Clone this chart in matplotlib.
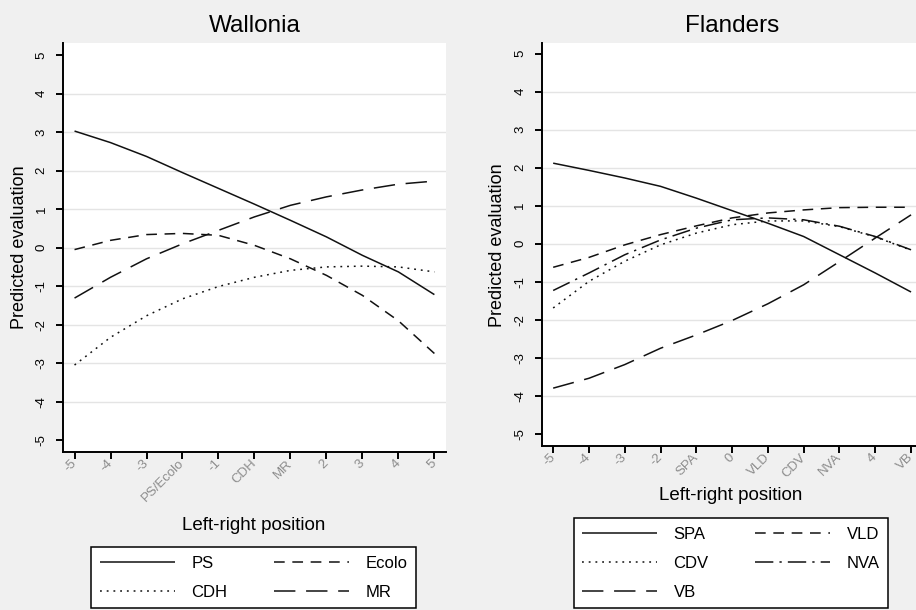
"""Predicted evaluation by left-right position, Wallonia vs Flanders."""

import matplotlib.pyplot as plt

plt.rcParams["font.family"] = ["Liberation Sans", "DejaVu Sans"]
plt.rcParams["axes.unicode_minus"] = False

positions = [-5, -4, -3, -2, -1, 0, 1, 2, 3, 4, 5]
y_ticks = [-5, -4, -3, -2, -1, 0, 1, 2, 3, 4, 5]

wallonia_ticks = ["-5", "-4", "-3", "PS/Ecolo", "-1", "CDH", "MR", "2", "3", "4", "5"]
flanders_ticks = ["-5", "-4", "-3", "-2", "SPA", "0", "VLD", "CDV", "NVA", "4", "VB"]

# Wallonia
ps = [3.03, 2.73, 2.37, 1.95, 1.54, 1.13, 0.71, 0.28, -0.20, -0.63, -1.22]
ecolo = [-0.05, 0.19, 0.34, 0.37, 0.32, 0.06, -0.29, -0.72, -1.24, -1.90, -2.75]
cdh = [-3.05, -2.33, -1.77, -1.33, -1.01, -0.77, -0.59, -0.50, -0.48, -0.50, -0.63]
mr = [-1.31, -0.77, -0.29, 0.10, 0.45, 0.80, 1.10, 1.32, 1.50, 1.65, 1.73]

# Flanders
spa = [2.12, 1.93, 1.73, 1.51, 1.20, 0.87, 0.54, 0.19, -0.29, -0.77, -1.27]
vld = [-0.62, -0.36, -0.03, 0.24, 0.47, 0.68, 0.81, 0.89, 0.95, 0.96, 0.96]
cdv = [-1.69, -0.99, -0.46, -0.03, 0.28, 0.50, 0.60, 0.60, 0.45, 0.18, -0.17]
nva = [-1.23, -0.77, -0.29, 0.10, 0.41, 0.63, 0.68, 0.63, 0.46, 0.19, -0.16]
vb = [-3.80, -3.54, -3.18, -2.75, -2.40, -2.02, -1.58, -1.08, -0.47, 0.15, 0.76]

SOLID = (0, ())
DOTTED = (0, (1.2, 3.2))
DASHED = (0, (7, 5))
LONGDASH = (0, (14, 7))
DASHDOT = (0, (12, 4, 1.5, 4))

BG = "#f0f0f0"


def _style_axes(ax, tick_labels, ylim):
    ax.set_facecolor("white")
    ax.set_xlim(-5.32, 5.32)
    ax.set_ylim(*ylim)
    ax.set_xticks(positions)
    ax.set_xticklabels(tick_labels, rotation=45, ha="right", va="center",
                       rotation_mode="anchor", color="#8c8c8c", fontsize=9.5)
    ax.set_yticks(y_ticks)
    ax.set_yticklabels([str(v) for v in y_ticks], rotation=90, va="center",
                       fontsize=9.5)
    ax.tick_params(axis="x", length=5, width=1.4, pad=2)
    ax.tick_params(axis="y", length=5, width=1.4, pad=6)
    for side in ("top", "right"):
        ax.spines[side].set_visible(False)
    for side in ("left", "bottom"):
        ax.spines[side].set_linewidth(1.4)
    ax.grid(True, axis="y", color="#e4e4e4", linewidth=1.0)
    ax.set_axisbelow(True)
    gridlines = ax.yaxis.get_gridlines()
    gridlines[0].set_visible(False)
    gridlines[-1].set_visible(False)


fig = plt.figure(figsize=(9.16, 6.1), dpi=100, facecolor=BG)

ax_w = fig.add_axes([0.0688, 0.259, 0.418, 0.670])
ax_f = fig.add_axes([0.5914, 0.269, 0.4157, 0.661])

line_kw = dict(color="#111111", linewidth=1.1)

w_ps, = ax_w.plot(positions, ps, linestyle=SOLID, label="PS", **line_kw)
w_ecolo, = ax_w.plot(positions, ecolo, linestyle=DASHED, label="Ecolo", **line_kw)
w_cdh, = ax_w.plot(positions, cdh, linestyle=DOTTED, label="CDH", **line_kw)
w_mr, = ax_w.plot(positions, mr, linestyle=LONGDASH, label="MR", **line_kw)

f_spa, = ax_f.plot(positions, spa, linestyle=SOLID, label="SPA", **line_kw)
f_vld, = ax_f.plot(positions, vld, linestyle=DASHED, label="VLD", **line_kw)
f_cdv, = ax_f.plot(positions, cdv, linestyle=DOTTED, label="CDV", **line_kw)
f_nva, = ax_f.plot(positions, nva, linestyle=DASHDOT, label="NVA", **line_kw)
f_vb, = ax_f.plot(positions, vb, linestyle=LONGDASH, label="VB", **line_kw)

_style_axes(ax_w, wallonia_ticks, (-5.31, 5.31))
_style_axes(ax_f, flanders_ticks, (-5.32, 5.29))

ax_w.set_title("Wallonia", fontsize=17.5, pad=8)
ax_f.set_title("Flanders", fontsize=17.5, pad=8)

fig.text(20 / 916, 1 - 247 / 610, "Predicted evaluation", rotation=90,
         ha="center", va="center", fontsize=13)
fig.text(498 / 916, 1 - 245 / 610, "Predicted evaluation", rotation=90,
         ha="center", va="center", fontsize=13)
fig.text(254 / 916, 1 - 525 / 610, "Left-right position",
         ha="center", va="center", fontsize=13.5)
fig.text(731 / 916, 1 - 495 / 610, "Left-right position",
         ha="center", va="center", fontsize=13.5)

legend_kw = dict(
    loc="lower center",
    ncol=2,
    fontsize=12,
    frameon=True,
    fancybox=False,
    edgecolor="black",
    facecolor="white",
    framealpha=1.0,
    handlelength=4.5,
    handletextpad=1.0,
    columnspacing=2.8,
    labelspacing=0.84,
    borderpad=0.5,
    borderaxespad=0.0,
)
leg_w = fig.legend(handles=[w_ps, w_cdh, w_ecolo, w_mr],
                   bbox_to_anchor=(253.5 / 916, 2 / 610), **legend_kw)
leg_f = fig.legend(handles=[f_spa, f_cdv, f_vb, f_vld, f_nva],
                   bbox_to_anchor=(731 / 916, 2 / 610), **legend_kw)
for leg in (leg_w, leg_f):
    leg.get_frame().set_linewidth(1.1)

fig.savefig("out.png", dpi=100, facecolor=BG)
